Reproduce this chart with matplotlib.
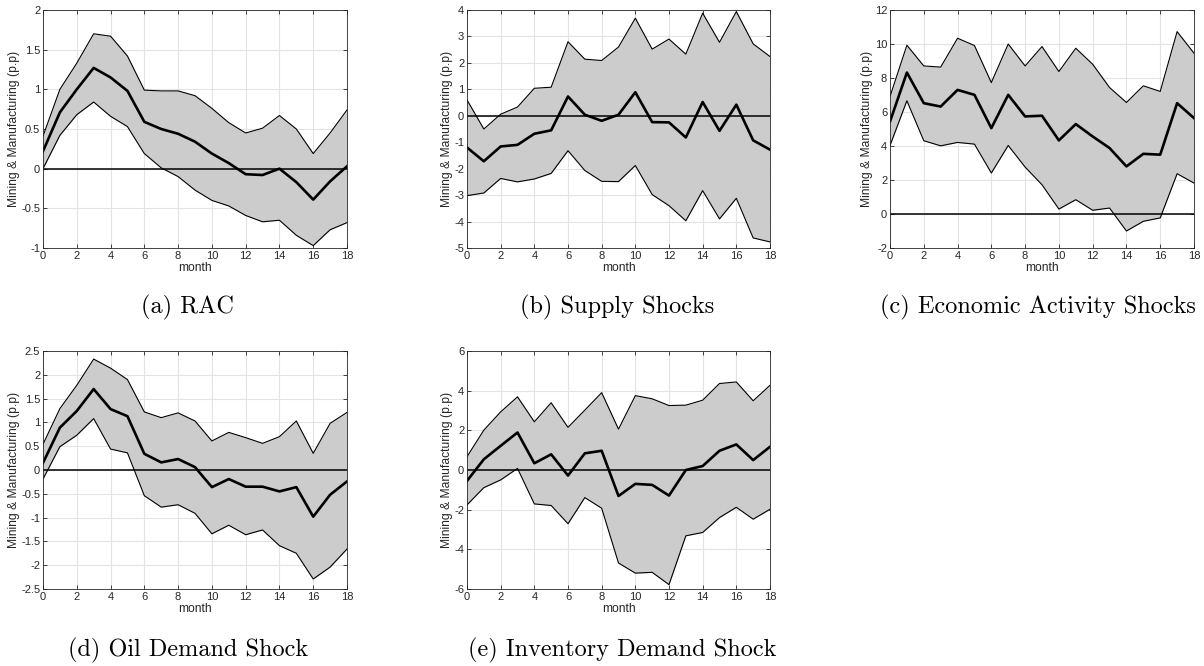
import numpy as np
import matplotlib.pyplot as plt

# impulse responses of mining & manufacturing, 0..18 months
months = np.arange(19)

# (a) RAC
rac_mean = [0.22, 0.71, 1.00, 1.27, 1.15, 0.98, 0.59, 0.50, 0.44, 0.34, 0.19, 0.07, -0.07, -0.08, 0.00, -0.17, -0.39, -0.16, 0.03]
rac_up = [0.41, 1.00, 1.33, 1.70, 1.67, 1.42, 0.99, 0.98, 0.98, 0.92, 0.76, 0.58, 0.45, 0.51, 0.67, 0.50, 0.19, 0.45, 0.74]
rac_lo = [0.00, 0.42, 0.68, 0.84, 0.66, 0.53, 0.19, 0.01, -0.10, -0.27, -0.40, -0.47, -0.59, -0.67, -0.65, -0.84, -0.97, -0.77, -0.68]

# (b) supply shocks
sup_mean = [-1.20, -1.72, -1.16, -1.10, -0.68, -0.55, 0.73, 0.04, -0.19, 0.04, 0.89, -0.24, -0.25, -0.82, 0.52, -0.57, 0.42, -0.93, -1.28]
sup_up = [0.60, -0.50, 0.06, 0.33, 1.04, 1.08, 2.80, 2.14, 2.09, 2.60, 3.69, 2.52, 2.90, 2.33, 3.88, 2.78, 3.94, 2.72, 2.24]
sup_lo = [-3.02, -2.92, -2.37, -2.50, -2.39, -2.18, -1.32, -2.07, -2.48, -2.49, -1.88, -2.98, -3.40, -3.97, -2.83, -3.90, -3.12, -4.62, -4.77]

# (c) economic activity shocks
eco_mean = [5.44, 8.32, 6.52, 6.32, 7.30, 7.01, 5.05, 7.01, 5.74, 5.78, 4.33, 5.29, 4.56, 3.88, 2.80, 3.54, 3.49, 6.52, 5.64]
eco_up = [6.91, 9.93, 8.71, 8.64, 10.34, 9.91, 7.73, 10.00, 8.71, 9.85, 8.38, 9.75, 8.81, 7.44, 6.56, 7.54, 7.21, 10.73, 9.46]
eco_lo = [4.03, 6.66, 4.31, 4.01, 4.21, 4.11, 2.41, 4.03, 2.76, 1.72, 0.29, 0.84, 0.22, 0.35, -1.00, -0.43, -0.23, 2.37, 1.82]

# (d) oil demand shock
oil_mean = [0.15, 0.89, 1.24, 1.70, 1.28, 1.13, 0.34, 0.16, 0.23, 0.06, -0.36, -0.19, -0.35, -0.35, -0.45, -0.36, -0.98, -0.52, -0.24]
oil_up = [0.54, 1.29, 1.78, 2.33, 2.14, 1.90, 1.22, 1.10, 1.20, 1.03, 0.61, 0.79, 0.68, 0.56, 0.70, 1.03, 0.35, 0.98, 1.21]
oil_lo = [-0.19, 0.49, 0.73, 1.08, 0.44, 0.36, -0.54, -0.78, -0.73, -0.91, -1.34, -1.16, -1.36, -1.26, -1.59, -1.75, -2.29, -2.04, -1.66]

# (e) inventory demand shock
inv_mean = [-0.55, 0.54, 1.22, 1.89, 0.34, 0.79, -0.28, 0.84, 0.97, -1.31, -0.70, -0.75, -1.29, 0.00, 0.20, 0.97, 1.29, 0.50, 1.17]
inv_up = [0.67, 2.01, 2.93, 3.69, 2.43, 3.39, 2.15, 3.02, 3.90, 2.06, 3.75, 3.59, 3.25, 3.27, 3.52, 4.36, 4.44, 3.49, 4.27]
inv_lo = [-1.76, -0.89, -0.50, 0.08, -1.71, -1.79, -2.71, -1.39, -1.93, -4.69, -5.20, -5.16, -5.78, -3.32, -3.15, -2.40, -1.88, -2.48, -1.98]

captions = ['(a) RAC', '(b) Supply Shocks', '(c) Economic Activity Shocks',
            '(d) Oil Demand Shock', '(e) Inventory Demand Shock']
ylims = [(-1, 2), (-5, 4), (-2, 12), (-2.5, 2.5), (-6, 6)]
yticks = [np.arange(-1, 2.01, 0.5), np.arange(-5, 4.1, 1), np.arange(-2, 12.1, 2),
          np.arange(-2.5, 2.51, 0.5), np.arange(-6, 6.1, 2)]
series = [(rac_mean, rac_up, rac_lo), (sup_mean, sup_up, sup_lo), (eco_mean, eco_up, eco_lo),
          (oil_mean, oil_up, oil_lo), (inv_mean, inv_up, inv_lo)]

W, H = 1204, 666
# axes boxes in pixels: left, top, right, bottom
boxes = [(43, 10, 347, 248), (467, 10, 770, 248), (890, 10, 1194, 248),
         (43, 351, 347, 589), (467, 351, 770, 589)]
cap_pos = [(187, 307), (617, 307), (1038, 307), (188, 650), (622, 650)]

plt.rcParams['font.family'] = ['Liberation Sans', 'DejaVu Sans']
fig = plt.figure(figsize=(W / 100, H / 100), dpi=100)

for i in range(5):
    l, t, r, b = boxes[i]
    ax = fig.add_axes([l / W, 1 - b / H, (r - l) / W, (b - t) / H])
    m, up, lo = series[i]
    ax.fill_between(months, lo, up, color='#cccccc', lw=0, zorder=2)
    ax.plot(months, up, color='black', lw=0.8, zorder=3)
    ax.plot(months, lo, color='black', lw=0.8, zorder=3)
    ax.axhline(0, color='black', lw=1.1, zorder=4)
    ax.plot(months, m, color='black', lw=1.9, zorder=5)
    ax.set_xlim(0, 18)
    ax.set_ylim(*ylims[i])
    ax.set_xticks(np.arange(0, 19, 2))
    ax.set_yticks(yticks[i])
    ax.set_yticklabels(['%g' % v for v in yticks[i]])
    ax.grid(True, color='#e3e3e3', lw=0.8, zorder=0)
    ax.set_axisbelow(True)
    ax.tick_params(direction='in', top=True, right=True, labelsize=8,
                   colors='#262626', length=3, width=0.6, pad=2)
    for sp in ax.spines.values():
        sp.set_color('#262626')
        sp.set_linewidth(0.6)
        sp.set_zorder(6)
    ax.set_xlabel('month', fontsize=8.7, color='#262626', labelpad=1)
    ax.set_ylabel('Mining & Manufacturing (p.p)', fontsize=8.7, color='#262626', labelpad=1)
    fig.text(cap_pos[i][0] / W, 1 - cap_pos[i][1] / H, captions[i],
             family=['cmr10', 'DejaVu Serif'], fontsize=17.5, ha='center', va='center')

fig.savefig('out.png', dpi=100)
